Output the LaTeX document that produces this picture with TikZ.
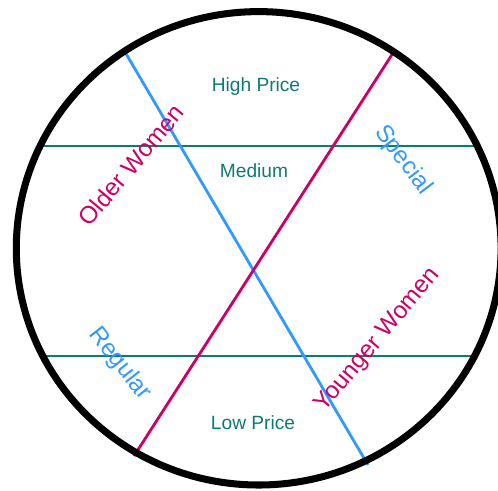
\documentclass[tikz,border=0pt]{standalone}
\usepackage{fontspec}
\setmainfont{Liberation Sans}
\usetikzlibrary{positioning}
\definecolor{tealband}{HTML}{0E7A74}
\definecolor{skyline}{HTML}{3399FF}
\definecolor{berry}{HTML}{CC0066}
\tikzset{
  rim/.style={draw=black,line width=4pt},
  band/.style={draw=tealband,line width=1.7pt},
  cutb/.style={draw=skyline,line width=1.6pt},
  cutm/.style={draw=berry,line width=1.6pt},
  price/.style={font=\fontsize{10.9}{12}\selectfont,text=tealband,inner sep=0pt},
  seg/.style={font=\fontsize{13.8}{15}\selectfont,inner sep=0pt},
  segb/.style={seg,text=skyline},
  segm/.style={seg,text=berry},
}

\begin{document}
\begin{tikzpicture}[x=0.02cm,y=-0.02cm]
\useasboundingbox (0,0) rectangle (498,491);
\fill[white] (0,0) rectangle (498,491);
\coordinate (c) at (258.7,248.3);
% price bands
\coordinate (h1) at (41,146);  \coordinate (h2) at (477,146);
\coordinate (l1) at (42,356);  \coordinate (l2) at (477,356);
\draw[band] (h1) -- (h2);
\draw[band] (l1) -- (l2);
% the two cuts
\coordinate (b1) at (125,52);  \coordinate (b2) at (368,465);
\coordinate (m1) at (393,53);  \coordinate (m2) at (134,456);
\draw[cutb] (b1) -- (b2);
\draw[cutm] (m1) -- (m2);
\draw[rim] (c) ellipse [x radius=242.4,y radius=236.7];
\node[price] (high) at (256,87) {High Price};
\node[price] (mid) at (254,171) {Medium};
\node[price] (low) at (253,423) {Low Price};
\node[segm,rotate=50] (older) at (131,165) {Older Women};
\node[segm,rotate=50] (younger) at (378,340) {Younger Women};
\node[segb,rotate=-53] (special) at (403,160) {Special};
\node[segb,rotate=-52] (regular) at (120,364) {Regular};
\end{tikzpicture}
\end{document}
